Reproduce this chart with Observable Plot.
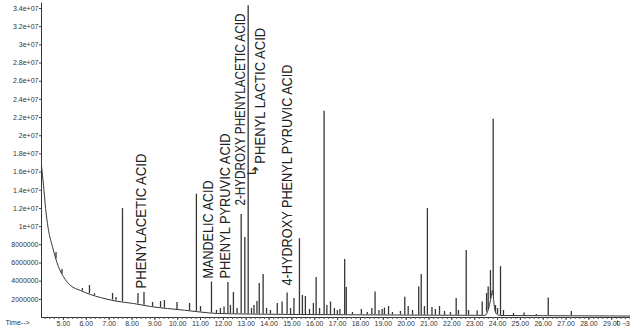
<!DOCTYPE html>
<html>
<head>
<meta charset="utf-8">
<script src="https://cdn.jsdelivr.net/npm/d3@7"></script>
<script src="https://cdn.jsdelivr.net/npm/@observablehq/plot@0.6"></script>
<style>
  html, body { margin: 0; padding: 0; background: #ffffff; overflow: hidden; }
  #chart svg { display: block; }
</style>
</head>
<body>
<div id="chart"></div>
<script>
// ---- Data (abundance in millions of counts, time in minutes) ----
const baseTime  = [4.04, 4.13, 4.22, 4.35, 4.52, 4.65, 4.78, 5.00, 5.18, 5.31, 5.75, 6.18, 6.62, 7.28, 8.07, 8.81, 9.55, 10.3, 11.0, 11.74, 13.19, 15.37, 17.5, 19.75, 22.0, 23.45, 23.6, 23.7, 23.78, 23.86, 23.95, 24.12, 26.0, 28.0, 29.82];
const baseValue = [16.7, 14.5, 12.0, 9.56, 7.8, 6.59, 5.6, 4.5, 3.85, 3.52, 2.97, 2.53, 2.2, 1.81, 1.54, 1.21, 0.99, 0.8, 0.6, 0.44, 0.38, 0.33, 0.30, 0.27, 0.25, 0.24, 0.9, 2.0, 3.0, 1.2, 0.4, 0.22, 0.2, 0.18, 0.16];

const peakTime = [4.675, 4.937, 5.83, 6.14, 6.36, 7.15, 7.30, 7.585, 8.263, 8.526, 8.90, 9.25, 9.42, 9.97, 10.52, 10.82, 11.0, 11.48, 11.70, 11.87, 12.03, 12.20, 12.31, 12.44, 12.60, 12.78, 12.94, 13.086, 13.23, 13.34, 13.47, 13.57, 13.74, 13.89, 14.06, 14.36, 14.57, 14.79, 14.94, 15.09, 15.33, 15.46, 15.59, 15.77, 15.94, 16.06, 16.21, 16.41, 16.53, 16.69, 16.86, 16.99, 17.10, 17.31, 17.38, 17.65, 18.04, 18.30, 18.50, 18.64, 18.81, 18.95, 19.05, 19.23, 19.40, 19.75, 19.94, 20.09, 20.28, 20.55, 20.66, 20.80, 20.93, 21.13, 21.28, 21.46, 21.68, 21.94, 22.19, 22.29, 22.63, 22.73, 23.11, 23.33, 23.52, 23.59, 23.69, 23.81, 23.91, 24.00, 24.13, 24.26, 24.70, 25.16, 25.70, 26.22, 27.23];
const peakTop  = [7.14, 5.27, 3.19, 3.52, 2.62, 2.64, 2.2, 11.98, 2.64, 2.75, 1.65, 1.76, 1.87, 1.65, 1.54, 13.57, 1.2, 3.90, 0.77, 0.99, 1.15, 3.85, 1.32, 2.75, 0.99, 11.32, 8.79, 34.3, 0.99, 1.32, 1.76, 3.74, 4.73, 0.99, 0.77, 1.54, 1.70, 2.69, 0.99, 2.09, 8.68, 2.42, 2.31, 0.88, 1.54, 4.40, 0.99, 22.69, 1.32, 1.70, 0.99, 0.77, 0.88, 6.37, 3.3, 0.55, 0.88, 0.55, 0.99, 2.80, 0.77, 0.88, 1.04, 1.21, 0.55, 0.66, 2.23, 1.21, 0.77, 3.35, 4.73, 1.21, 11.98, 1.10, 0.88, 1.21, 0.66, 0.55, 2.09, 0.77, 7.36, 0.77, 0.71, 1.70, 2.64, 3.35, 5.16, 21.81, 1.32, 0.99, 5.60, 0.77, 0.44, 0.49, 0.33, 2.14, 0.66];
const peakBase = [6.45, 4.75, 2.9, 2.6, 2.4, 1.92, 1.81, 1.72, 1.48, 1.36, 1.18, 1.08, 1.03, 0.88, 0.74, 0.68, 0.6, 0.49, 0.45, 0.44, 0.43, 0.42, 0.42, 0.41, 0.41, 0.40, 0.40, 0.39, 0.38, 0.38, 0.38, 0.37, 0.37, 0.37, 0.36, 0.36, 0.35, 0.35, 0.34, 0.34, 0.33, 0.33, 0.33, 0.33, 0.32, 0.32, 0.32, 0.32, 0.32, 0.31, 0.31, 0.31, 0.31, 0.30, 0.30, 0.30, 0.29, 0.29, 0.29, 0.29, 0.28, 0.28, 0.28, 0.28, 0.28, 0.27, 0.27, 0.27, 0.27, 0.26, 0.26, 0.26, 0.26, 0.26, 0.26, 0.25, 0.25, 0.25, 0.25, 0.25, 0.25, 0.25, 0.24, 0.24, 0.6, 0.85, 2.0, 2.4, 0.6, 0.35, 0.22, 0.22, 0.21, 0.21, 0.20, 0.20, 0.19];

const compoundNames = ["PHENYLACETIC ACID", "MANDELIC ACID", "PHENYL PYRUVIC ACID", "2-HYDROXY PHENYLACETIC ACID", "PHENYL LACTIC ACID", "4-HYDROXY PHENYL PYRUVIC ACID"];
const compoundTime  = [8.40, 11.35, 12.09, 12.75, 13.59, 14.81];
const compoundLevel = [3.19, 4.29, 4.29, 12.31, 16.92, 3.52];

const yTicks = [2, 4, 6, 8, 10, 12, 14, 16, 18, 20, 22, 24, 26, 28, 30, 32, 34];
const yTickLabels = ["2000000", "4000000", "6000000", "8000000", "1e+07", "1.2e+07", "1.4e+07", "1.6e+07", "1.8e+07", "2e+07", "2.2e+07", "2.4e+07", "2.6e+07", "2.8e+07", "3e+07", "3.2e+07", "3.4e+07"];
const xTicks = [5, 6, 7, 8, 9, 10, 11, 12, 13, 14, 15, 16, 17, 18, 19, 20, 21, 22, 23, 24, 25, 26, 27, 28, 29, 30];
const xTickLabels = ["5.00", "6.00", "7.00", "8.00", "9.00", "10.00", "11.00", "12.00", "13.00", "14.00", "15.00", "16.00", "17.00", "18.00", "19.00", "20.00", "21.00", "22.00", "23.00", "24.00", "25.00", "26.00", "27.00", "28.00", "29.00", "30.00"];
const xAxisLabel = "Time-->";

// ---- Tables built from the arrays ----
const baseline = baseTime.map((t, i) => ({t, v: baseValue[i]}));
const peaks = peakTime.map((t, i) => ({t, top: peakTop[i], base: peakBase[i]}));
const compounds = compoundNames.map((name, i) => ({name, t: compoundTime[i], v: compoundLevel[i]}));
const arrowNote = [{t: 13.30, v: 16.15, s: "\u21B3"}];
const minorTicks = d3.range(4.2, 29.81, 0.2);

// label lengths (styling) to emulate the narrow typeface
const labelLength = {"PHENYLACETIC ACID": 135, "MANDELIC ACID": 98, "PHENYL PYRUVIC ACID": 145, "2-HYDROXY PHENYLACETIC ACID": 192, "PHENYL LACTIC ACID": 136, "4-HYDROXY PHENYL PYRUVIC ACID": 221};

const ink = "#363636";
const tickFont = "'Liberation Sans', Arial, sans-serif";

const chart = Plot.plot({
  width: 630,
  height: 327,
  marginLeft: 41,
  marginRight: 0,
  marginTop: 8,
  marginBottom: 10,
  x: {domain: [4.04, 29.82], axis: null},
  y: {domain: [0, 34], axis: null},
  style: {background: "transparent", fontFamily: tickFont},
  marks: [
    Plot.ruleY([0], {stroke: ink, strokeWidth: 1}),
    Plot.ruleX([4.04], {y1: 0, y2: 34.6, stroke: ink, strokeWidth: 1}),
    Plot.ruleX(minorTicks, {x: d => d, y1: 0, y2: 0, insetBottom: -2, stroke: "#555"}),
    Plot.axisX(xTicks, {anchor: "bottom", tickSize: 3, tickPadding: 1, fontSize: 7, fill: "#333", stroke: "#444",
      tickFormat: d => xTickLabels[xTicks.indexOf(d)]}),
    Plot.axisY(yTicks, {anchor: "left", tickSize: 2, tickPadding: 1, fontSize: 7, fill: "#333", stroke: "#444",
      tickFormat: d => yTickLabels[yTicks.indexOf(d)]}),
    Plot.text([xAxisLabel], {frameAnchor: "bottom-left", dx: -36, dy: 7, textAnchor: "start", fontSize: 7, fill: "#333"}),
    Plot.line(baseline, {x: "t", y: "v", stroke: ink, strokeWidth: 1, curve: "monotone-x"}),
    Plot.ruleX(peaks, {x: "t", y1: "base", y2: "top", stroke: ink, strokeWidth: 1.3}),
    Plot.text(compounds, {x: "t", y: "v", text: "name", rotate: -90, textAnchor: "start", fontSize: 15,
      fontFamily: "'Liberation Sans Narrow', 'Arial Narrow', 'Liberation Sans', Arial, sans-serif", fill: "#222"}),
    Plot.text(arrowNote, {x: "t", y: "v", text: "s", rotate: -90, fontSize: 15, fontFamily: "'DejaVu Sans', sans-serif", fill: "#222"})
  ]
});

d3.select(chart).selectAll("text").each(function () {
  const len = labelLength[this.textContent];
  if (len) {
    this.setAttribute("textLength", len);
    this.setAttribute("lengthAdjust", "spacingAndGlyphs");
  }
});

document.getElementById("chart").appendChild(chart);
</script>
</body>
</html>
